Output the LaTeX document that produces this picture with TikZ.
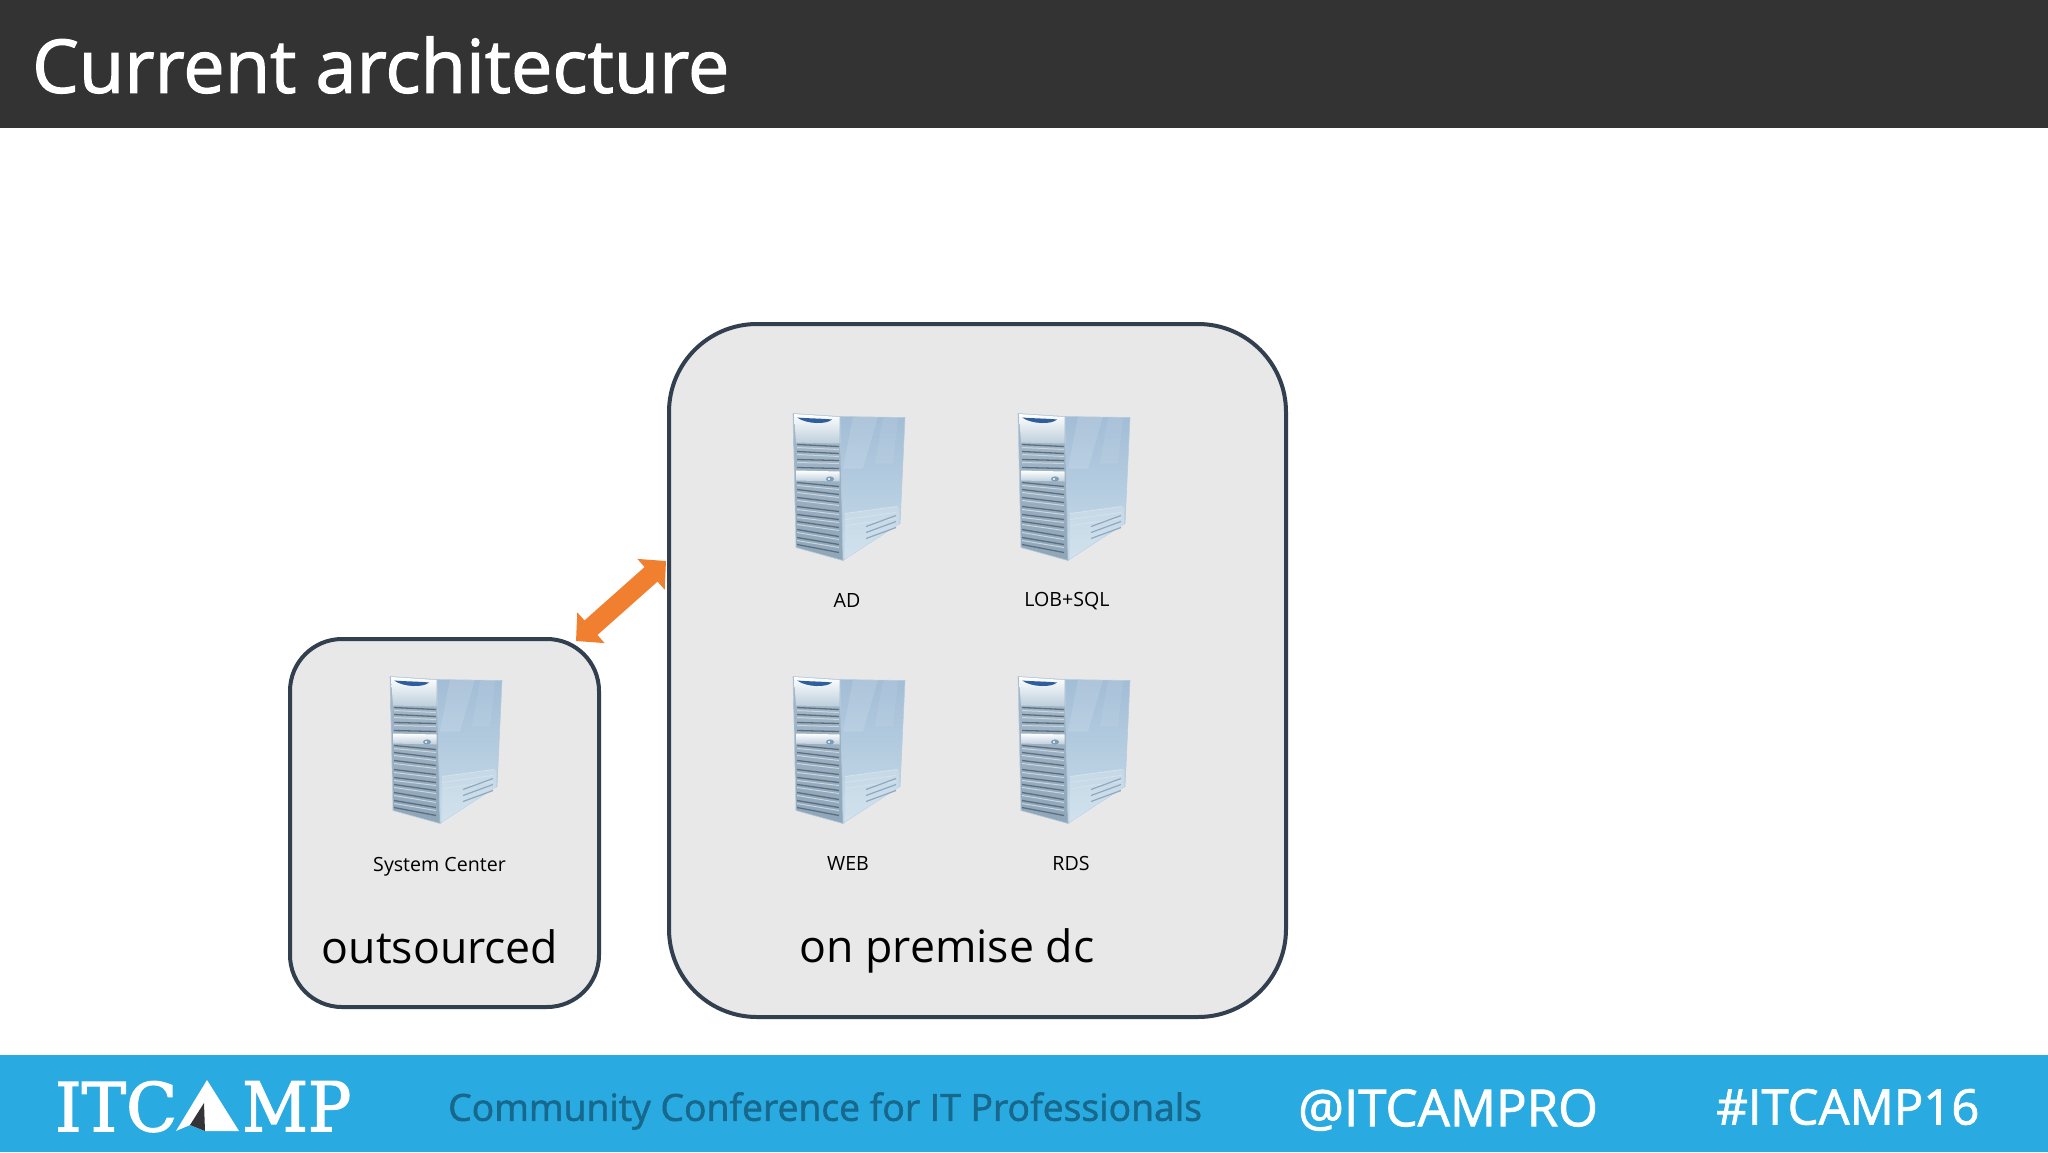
\documentclass[tikz,border=0pt]{standalone}
\usepackage{fontspec}
\setmainfont{Open Sans}
\newfontfamily\semifont[FakeBold=1.6]{Open Sans}
\newfontfamily\logofont[FakeBold=2]{DejaVu Serif}
\usetikzlibrary{arrows.meta,shapes.geometric}
\definecolor{barDark}{HTML}{333333}
\definecolor{barBlue}{HTML}{29ABE2}
\definecolor{boxFill}{HTML}{E9E8E9}
\definecolor{boxEdge}{HTML}{323F4F}
\definecolor{arrowOrange}{HTML}{F08030}
\definecolor{tagline}{HTML}{17688C}
\definecolor{logoDark}{HTML}{333338}
\definecolor{sideTop}{HTML}{A2BDD6}
\definecolor{sideBot}{HTML}{C8DCEA}
\definecolor{sideEdge}{HTML}{B4CBDD}
\definecolor{frontTop}{HTML}{A5B9C9}
\definecolor{frontBot}{HTML}{8FA6B9}
\definecolor{headBot}{HTML}{BDCEDB}
\definecolor{badge}{HTML}{2F5E9E}
\definecolor{slatDark}{HTML}{5C6F80}
\definecolor{slatLight}{HTML}{C9D6E0}
\definecolor{trayLine}{HTML}{D5E3EC}
\definecolor{trayDark}{HTML}{8EA9BE}
\definecolor{knob}{HTML}{7D9DB8}
\tikzset{
  x=1pt,y=-1pt,
  zone/.style={draw=boxEdge,fill=boxFill,line width=4pt,inner sep=0pt,anchor=north west},
  lbl/.style={inner sep=0pt,font=\fontsize{19.6}{24}\selectfont,text=black},
  zonelbl/.style={inner sep=0pt,font=\fontsize{44.6}{54}\selectfont,text=black},
  foot/.style={inner sep=0pt,anchor=west,text=white},
  server/.pic={
    \shade[top color=sideTop,bottom color=sideBot,draw=sideEdge,line width=.6pt]
      (47,3) -- (112,4) -- (107,110) -- (50,147) -- cycle;
    \fill[white,opacity=.12] (60,3) -- (85,3) -- (70,55) -- (50,55) -- cycle;
    \fill[white,opacity=.08] (90,4) -- (105,4) -- (100,50) -- (82,50) -- cycle;
    \fill[white,opacity=.18] (52,100) -- (106,93) -- (106,112) -- (52,147) -- cycle;
    \foreach \a/\b/\c/\d in {52/100/104/93,52/106/103/99,53/112/103/105}
      \draw[trayLine,line width=.8pt] (\a,\b) -- (\c,\d);
    \foreach \a/\b/\c/\d in {73/113/103/102,73/119/103/108,73/125/103/114}
      \draw[trayDark,line width=1.2pt] (\a,\b) -- (\c,\d);
    \shade[top color=frontTop,bottom color=frontBot,draw=sideEdge,line width=.6pt]
      (0,0) -- (47,3) -- (50,147) -- (3,134) -- cycle;
    \shade[top color=white,bottom color=headBot]
      (1,0.5) -- (46.5,3.5) -- (46.5,30) -- (3,29) -- cycle;
    \fill[badge] (4,4) .. controls (16,5) and (30,5) .. (39,6) .. controls (34,11) and (14,11) .. cycle;
    \shade[top color=white,bottom color=headBot]
      (3,57) -- (46.5,58) -- (46.5,68) -- (3,67) -- cycle;
    \fill[knob] (37,65.5) ellipse [x radius=4,y radius=2.6];
    \fill[white] (36,65.5) circle [radius=1.2];
    \foreach \l/\r in {31/33,38/40,46/47,54/55,69/73,76/81,84/89,93/98,101/106,108/114,116/123,124/131,131/139}
      \draw[slatDark,line width=1.3pt] (4,\l) -- (46,\r);
    \foreach \l/\r in {34/36,41/43,49/50,72/76,79/84,87/92,96/101,104/109,111/117,119/126,127/134}
      \draw[slatLight,line width=1pt] (4,\l) -- (46,\r);
  }
}
\begin{document}
\begin{tikzpicture}
\useasboundingbox (0,0) rectangle (2048,1152);
\fill[white] (0,0) rectangle (2048,1152);
\fill[barDark] (0,0) rectangle (2048,128);
\fill[barBlue] (0,1055) rectangle (2048,1152);
\node[foot,font=\semifont\fontsize{74}{88}\selectfont] (title) at (32,65) {Current architecture};

\node[zone,minimum width=309pt,minimum height=368pt,rounded corners=52pt] (small) at (288,637) {};
\node[zone,minimum width=617pt,minimum height=693pt,rounded corners=88pt] (big) at (667,322) {};

\pic at (793,413.5) {server};
\pic at (1018,413.5) {server};
\pic at (793,676.5) {server};
\pic at (1018,676.5) {server};
\pic at (390,676.5) {server};

\node[lbl] (ad) at (847,600) {AD};
\node[lbl] (lob) at (1067,601) {LOB+SQL};
\node[lbl] (web) at (848,863) {WEB};
\node[lbl] (rds) at (1071,863) {RDS};
\node[lbl] (sc) at (439.5,866.5) {System Center};
\node[zonelbl] (outs) at (440,947) {outsourced};
\node[zonelbl] (prem) at (947,951) {on premise dc};

\coordinate (arrowA) at (576,641);
\coordinate (arrowB) at (666,561);
\draw[arrowOrange,line width=19.5pt,{Triangle[length=20pt,width=40pt]}-{Triangle[length=20pt,width=40pt]}] (arrowA) -- (arrowB);

\node[foot,text=tagline,font=\semifont\fontsize{37.3}{46}\selectfont] (tag) at (448,1111) {Community Conference for IT Professionals};
\node[foot,font=\semifont\fontsize{51}{60}\selectfont] (handle) at (1298,1110) {@ITCAMPRO};
\node[foot,font=\semifont\fontsize{49}{60}\selectfont] (hash) at (1716,1107) {\#ITCAMP16};

\node[foot,anchor=north west] (logoa) at (55,1081) {\logofont\resizebox{122pt}{50pt}{ITC}};
\node[foot,anchor=north west] (logob) at (242,1081) {\logofont\resizebox{109pt}{50pt}{MP}};
\fill[white] (207,1080) -- (239,1131) -- (205,1131) -- (190,1125) -- (176,1131) -- cycle;
\fill[logoDark] (204,1103) -- (190,1125) -- (205,1131) -- cycle;
\end{tikzpicture}
\end{document}
